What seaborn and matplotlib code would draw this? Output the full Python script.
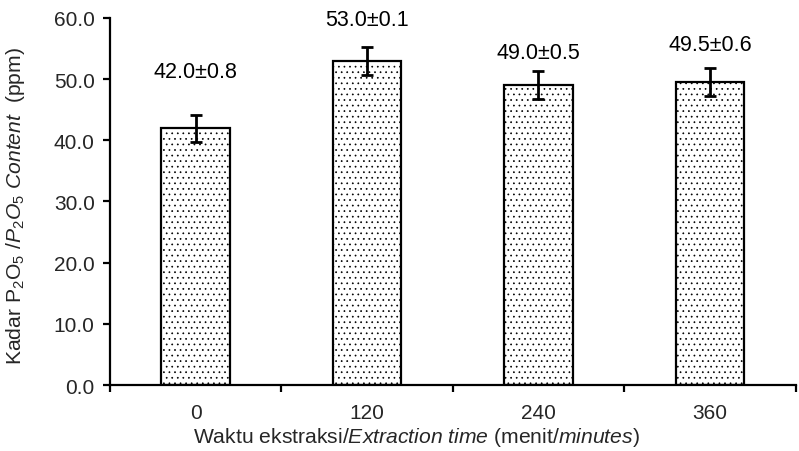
import matplotlib
matplotlib.use("Agg")
import matplotlib.pyplot as plt
import seaborn as sns
import numpy as np
import pandas as pd

# Extraction time (minutes) and P2O5 content (ppm)
times = ["0", "120", "240", "360"]
means = [42.0, 53.0, 49.0, 49.5]
sd_text = [0.8, 0.1, 0.5, 0.6]
err_bars = [2.2, 2.3, 2.3, 2.3]

sns.set_theme(style="white")
plt.rcParams["font.family"] = ["Liberation Sans", "DejaVu Sans"]
plt.rcParams["mathtext.fontset"] = "custom"
plt.rcParams["mathtext.rm"] = "Liberation Sans"
plt.rcParams["mathtext.it"] = "Liberation Sans:italic"
plt.rcParams["hatch.color"] = "#5a5a5a"
plt.rcParams["hatch.linewidth"] = 0.5

df = pd.DataFrame({"time": times, "ppm": means})

fig = plt.figure(figsize=(7.99, 4.52), dpi=100)
ax = fig.add_axes([0.1377, 0.146, 0.858, 0.812])

sns.barplot(data=df, x="time", y="ppm", color="white", width=0.4,
            edgecolor="black", linewidth=1.6, ax=ax, zorder=2)
for p in ax.patches:
    p.set_hatch("...")
    p.set_facecolor("white")

centers = [p.get_x() + p.get_width() / 2 for p in ax.patches]
ax.errorbar(centers, means, yerr=err_bars, fmt="none", ecolor="black",
            elinewidth=2, capsize=4.5, capthick=2, zorder=3)

# value labels above each bar
label_lift = [9.2, 6.8, 5.4, 6.2]
for x, m, s, d in zip(centers, means, sd_text, label_lift):
    ax.text(x, m + d, f"{m:.1f}±{s:.1f}", ha="center", va="center",
            fontsize=15.5, color="black")

ax.set_ylim(0, 60)
ax.set_xlim(-0.5, 3.5)
ax.set_yticks(np.arange(0, 61, 10))
ax.set_yticklabels([f"{v:.1f}" for v in np.arange(0, 61, 10)])
ax.set_xticks(range(len(times)))
ax.set_xticklabels(times)
ax.set_xticks(np.arange(-0.5, 4, 1), minor=True)
ax.tick_params(axis="x", which="major", length=0, pad=13, labelsize=15)
ax.tick_params(axis="x", which="minor", length=5, width=1.6, direction="out",
               color="black", bottom=True)
ax.tick_params(axis="y", length=5, width=1.6, direction="out", color="black",
               left=True, labelsize=15, pad=6)

for side in ["top", "right"]:
    ax.spines[side].set_visible(False)
for side in ["left", "bottom"]:
    ax.spines[side].set_color("black")
    ax.spines[side].set_linewidth(1.6)

ax.set_xlabel(r"Waktu ekstraksi/$\mathit{Extraction\ time}$ (menit/$\mathit{minutes}$)",
              fontsize=15.2)
ax.set_ylabel(r"Kadar P$_2$O$_5$ /$\mathit{P}_2\mathit{O}_5\ \mathit{Content}$  (ppm)",
              fontsize=15.2)
ax.xaxis.set_label_coords(0.447, -0.11)
ax.yaxis.set_label_coords(-0.121, 0.49)

fig.savefig("out.png", dpi=100)
